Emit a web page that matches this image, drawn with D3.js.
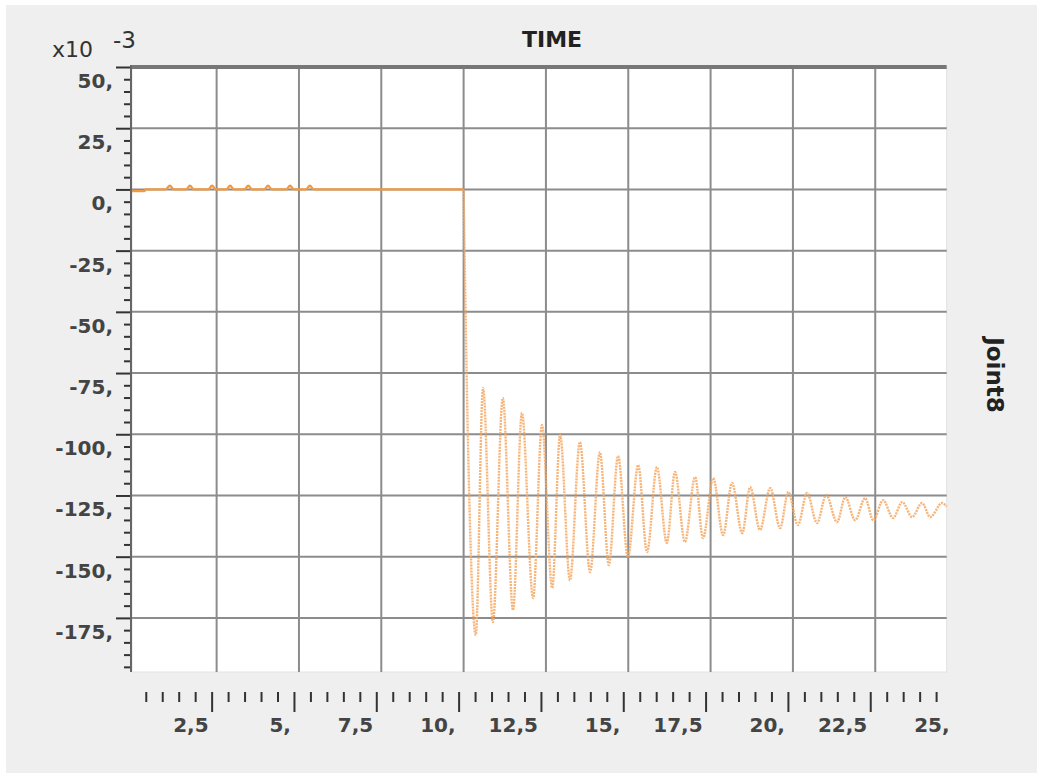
<!DOCTYPE html>
<html>
<head>
<meta charset="utf-8">
<script src="https://cdn.jsdelivr.net/npm/d3@7"></script>
<style>
  body { margin: 0; background: #fff; }
  svg { display: block; }
  text { font-family: "DejaVu Sans", Verdana, sans-serif; }
</style>
</head>
<body>
<div id="chart"></div>
<script>
// series (values in x10^-3)
const timeS = [-0.07, 0.3, 0.36, 0.95, 1.08, 1.2, 1.57, 1.69, 1.81, 2.24, 2.36, 2.48,
  2.79, 2.91, 3.03, 3.34, 3.46, 3.58, 3.94, 4.06, 4.18, 4.61, 4.73, 4.85, 5.21, 5.33, 5.45,
  10.0, 10.12, 10.37, 10.59, 10.89, 11.19, 11.5, 11.77, 12.11, 12.38, 12.69, 12.93,
  13.23, 13.53, 13.84, 14.14, 14.41, 14.69, 14.99, 15.3, 15.57, 15.87, 16.17, 16.42,
  16.72, 17.03, 17.27, 17.58, 17.88, 18.15, 18.46, 18.7, 19.0, 19.31, 19.61, 19.86,
  20.15, 20.43, 20.73, 21.01, 21.34, 21.59, 21.89, 22.19, 22.44, 22.74, 23.04, 23.32,
  23.62, 23.92, 24.17, 24.53, 24.67];
const valueS = [-0.7, -0.7, 0, 0, 1.5, 0, 0, 1.5, 0, 0, 1.5, 0,
  0, 1.5, 0, 0, 1.5, 0, 0, 1.5, 0, 0, 1.5, 0, 0, 1.5, 0,
  0, -95, -182, -81.1, -176.7, -85.2, -171.8, -91.3, -166.9, -96.2, -162.8, -100.3,
  -159.6, -103.2, -156.3, -107.3, -153.4, -108.9, -150.2, -112.6, -148.1, -113.4, -144.4, -115.4,
  -144.0, -117.5, -142.4, -117.9, -141.2, -119.9, -140.4, -121.6, -139.1, -122.0, -138.3, -123.6,
  -137.1, -124.0, -136.3, -124.8, -135.9, -125.7, -135.1, -126.1, -135.1, -126.9, -134.2, -127.7,
  -133.8, -128.1, -133.8, -128.1, -129.5];

const yMajor = [50, 25, 0, -25, -50, -75, -100, -125, -150, -175];
const xMajor = [2.5, 5, 7.5, 10, 12.5, 15, 17.5, 20, 22.5, 25];
const xLabels = ["2,5", "5,", "7,5", "10,", "12,5", "15,", "17,5", "20,", "22,5", "25,"];

const W = 1037, H = 775;
const pL = 132, pR = 946.7, pT = 67, pB = 672;

const svg = d3.select('#chart').append('svg')
  .attr('width', W).attr('height', H);

svg.append('rect').attr('x', 6).attr('y', 5).attr('width', W - 6).attr('height', 768)
  .attr('fill', '#efefef');

const x = d3.scaleLinear().domain([-0.07, 24.67]).range([pL, pR]);
const y = d3.scaleLinear().domain([-197.1, 50]).range([pB, pT]);

// plot area
svg.append('rect').attr('x', pL).attr('y', pT).attr('width', pR - pL).attr('height', pB - pT)
  .attr('fill', '#fff').attr('stroke', '#e2e2e2').attr('stroke-width', 1);

// grid
svg.append('g').selectAll('line').data(xMajor.filter(d => x(d) < pR - 2)).join('line')
  .attr('x1', d => x(d)).attr('x2', d => x(d)).attr('y1', pT).attr('y2', pB)
  .attr('stroke', '#8c8c8c').attr('stroke-width', 2);
svg.append('g').selectAll('line').data(yMajor.filter(d => d < 50)).join('line')
  .attr('x1', pL).attr('x2', pR).attr('y1', d => y(d)).attr('y2', d => y(d))
  .attr('stroke', '#8c8c8c').attr('stroke-width', 2);

// top border
svg.append('line').attr('x1', pL).attr('x2', pR).attr('y1', pT).attr('y2', pT)
  .attr('stroke', '#777').attr('stroke-width', 4);

// series
const pts = timeS.map((t, i) => [t, valueS[i]]);
const line = d3.line().x(d => x(d[0])).y(d => y(d[1])).curve(d3.curveMonotoneX);
const split = timeS.indexOf(10.0);
svg.append('path').datum(pts.slice(0, split + 1)).attr('d', line)
  .attr('fill', 'none').attr('stroke', '#f39a40').attr('stroke-width', 2.4);
svg.append('path').datum(pts.slice(split)).attr('d', line)
  .attr('fill', 'none').attr('stroke', '#f6a760').attr('stroke-width', 2.4)
  .attr('stroke-opacity', 0.85).attr('stroke-dasharray', '2,1');

// y axis
const yMinor = d3.range(50, -197, -5).filter(d => !yMajor.includes(d));
const yAxMinor = d3.axisLeft(y).tickValues(yMinor).tickSize(7).tickFormat('');
const yAxMajor = d3.axisLeft(y).tickValues(yMajor).tickSize(15).tickFormat('');
[yAxMinor, yAxMajor].forEach(ax => {
  const g = svg.append('g').attr('transform', `translate(${pL - 1},0)`).call(ax);
  g.select('.domain').remove();
  g.selectAll('line').attr('stroke', '#333').attr('stroke-width', 2);
});
svg.append('line').attr('x1', pL - 1).attr('x2', pL - 1).attr('y1', pT - 2).attr('y2', pB)
  .attr('stroke', '#666').attr('stroke-width', 2);
svg.append('g').selectAll('text').data(yMajor).join('text')
  .attr('x', 113).attr('y', d => y(d) + 21)
  .attr('text-anchor', 'end').attr('font-size', 20).attr('font-weight', 'bold')
  .attr('fill', '#444').text(d => d + ',');

// x axis (drawn slightly left of the grid, as in the source)
const xMinor = d3.range(0.5, 25, 0.5).filter(d => !xMajor.includes(d));
const xAxMinor = d3.axisBottom(x).tickValues(xMinor).tickSize(10).tickFormat('');
const xAxMajor = d3.axisBottom(x).tickValues(xMajor.filter(d => x(d) - 5 < pR)).tickSize(20).tickFormat('');
[xAxMinor, xAxMajor].forEach(ax => {
  const g = svg.append('g').attr('transform', 'translate(-5,692)').call(ax);
  g.select('.domain').remove();
  g.selectAll('line').attr('stroke', '#333').attr('stroke-width', 2);
});
svg.append('g').selectAll('text').data(xMajor).join('text')
  .attr('x', d => x(d) - 8).attr('y', 732)
  .attr('text-anchor', 'end').attr('font-size', 20).attr('font-weight', 'bold')
  .attr('fill', '#444').text((d, i) => xLabels[i]);

// titles
svg.append('text').attr('x', 552).attr('y', 47).attr('text-anchor', 'middle')
  .attr('font-size', 22).attr('font-weight', 'bold').attr('fill', '#222').text('TIME');
svg.append('text').attr('x', 52).attr('y', 57).attr('font-size', 22).attr('fill', '#333').text('x10');
svg.append('text').attr('x', 113).attr('y', 48).attr('font-size', 23).attr('fill', '#333').text('-3');
svg.append('text').attr('transform', 'translate(987,375) rotate(90)').attr('text-anchor', 'middle')
  .attr('font-size', 23).attr('font-weight', 'bold').attr('fill', '#222').text('Joint8');
</script>
</body>
</html>
